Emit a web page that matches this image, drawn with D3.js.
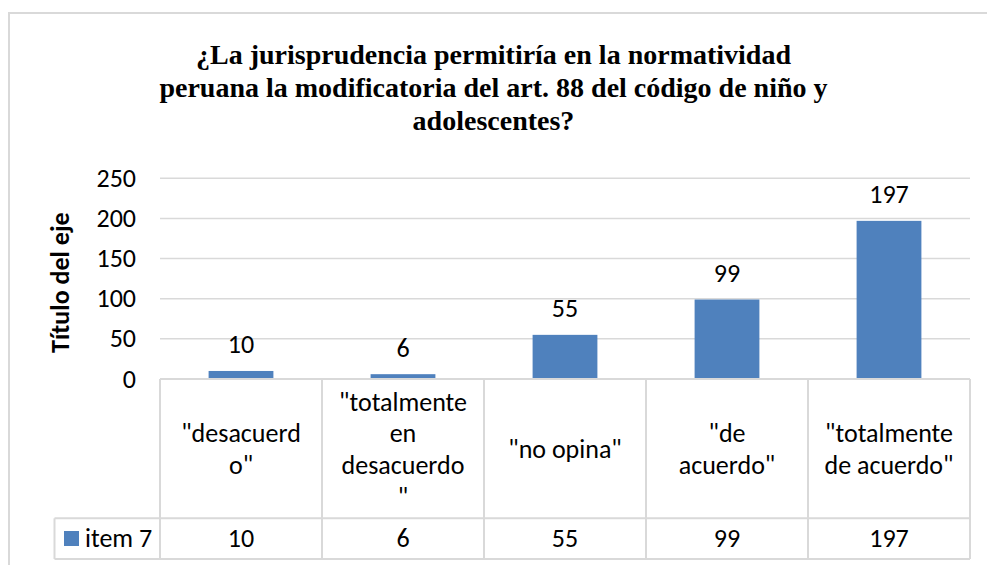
<!DOCTYPE html>
<html><head><meta charset="utf-8">
<script src="https://cdn.jsdelivr.net/npm/d3@7"></script>
<style>html,body{margin:0;padding:0;background:#fff;}svg{display:block;}</style>
</head><body>
<svg id="c" width="987" height="565"></svg>
<script>
const titleLines = ["¿La jurisprudencia permitiría en la normatividad", "peruana la modificatoria del art. 88 del código de niño y", "adolescentes?"];
const categories = ['"desacuerdo"', '"totalmente en desacuerdo"', '"no opina"', '"de acuerdo"', '"totalmente de acuerdo"'];
const categoryLines = [['"desacuerd', 'o"'], ['"totalmente', 'en', 'desacuerdo', '"'], ['"no opina"'], ['"de', 'acuerdo"'], ['"totalmente', 'de acuerdo"']];
const seriesName = "item 7";
const values = [10, 6, 55, 99, 197];
const yTicks = [0, 50, 100, 150, 200, 250];
const yTitle = "Título del eje";

const svg = d3.select("#c");
const sans = "Carlito, Lato, sans-serif";
const grid = "#d9d9d9";
const blue = "#4f81bd";
const fs = "26px";

// outer frame
svg.append("rect").attr("x", 9).attr("y", 13).attr("width", 1000).attr("height", 600)
  .attr("fill", "none").attr("stroke", grid).attr("stroke-width", 2);

// title: direct children, left-anchored, centred by measuring
const titleCenter = 493.5;
svg.selectAll("text").data(titleLines).join("text")
  .attr("y", (d, i) => 64 + i * 33)
  .style("font-family", "'Times New Roman'").style("font-weight", "bold").style("font-size", "28px")
  .text(d => d)
  .attr("x", function () { return titleCenter - this.getComputedTextLength() / 2; });

const left = 160, right = 970, top0 = 178.3, bottom0 = 379;
const x = d3.scaleBand().domain(categories).range([left, right]).paddingInner(0.6).paddingOuter(0.3);
const y = d3.scaleLinear().domain([0, 250]).range([bottom0, top0]);

// gridlines
svg.append("g").selectAll("line").data(yTicks.filter(t => t > 0)).join("line")
  .attr("x1", left).attr("x2", right).attr("y1", d => y(d)).attr("y2", d => y(d))
  .attr("stroke", grid).attr("stroke-width", 1.5);

// y axis tick labels
svg.append("g").selectAll("text").data(yTicks).join("text")
  .attr("x", 136).attr("y", d => y(d) + 8.5).attr("text-anchor", "end")
  .style("font-family", sans).style("font-size", fs).attr("fill", "#000")
  .text(d => d);

// y title
svg.append("text").attr("transform", "translate(69," + ((top0 + bottom0) / 2 + 4) + ") rotate(-90)")
  .attr("text-anchor", "middle")
  .style("font-family", sans).style("font-weight", "bold").style("font-size", fs).attr("fill", "#000")
  .text(yTitle);

// bars
svg.append("g").selectAll("rect").data(values).join("rect")
  .attr("x", (d, i) => x(categories[i])).attr("width", x.bandwidth())
  .attr("y", d => y(d)).attr("height", d => y(0) - y(d))
  .attr("fill", blue);

// bar labels
svg.append("g").selectAll("text").data(values).join("text")
  .attr("x", (d, i) => x(categories[i]) + x.bandwidth() / 2).attr("y", d => y(d) - 17.5)
  .attr("text-anchor", "middle")
  .style("font-family", sans).style("font-size", fs).attr("fill", "#000")
  .text(d => d);

// data table
const step = (right - left) / categories.length;
const tableTop = 379, rowDiv = 518.3, tableBot = 559, legLeft = 54.5;
const tg = svg.append("g").attr("stroke", grid).attr("stroke-width", 2);
tg.append("line").attr("x1", left).attr("x2", right).attr("y1", tableTop).attr("y2", tableTop);
tg.append("line").attr("x1", legLeft).attr("x2", right).attr("y1", rowDiv).attr("y2", rowDiv);
tg.append("line").attr("x1", legLeft).attr("x2", right).attr("y1", tableBot).attr("y2", tableBot);
tg.append("line").attr("x1", legLeft).attr("x2", legLeft).attr("y1", rowDiv).attr("y2", tableBot);
tg.selectAll(".v").data(d3.range(categories.length + 1)).join("line")
  .attr("x1", i => left + i * step).attr("x2", i => left + i * step)
  .attr("y1", tableTop).attr("y2", tableBot);

// category labels
const lh = 31.7;
categoryLines.forEach((lines, i) => {
  const cx = left + (i + 0.5) * step;
  const cy = (tableTop + rowDiv) / 2 + 1;
  const start = cy - (lines.length - 1) * lh / 2;
  svg.append("g").selectAll("text").data(lines).join("text")
    .attr("x", cx).attr("y", (d, j) => start + j * lh + 8.5)
    .attr("text-anchor", "middle")
    .style("font-family", sans).style("font-size", fs).attr("fill", "#000")
    .text(d => d);
});

// value row
svg.append("g").selectAll("text").data(values).join("text")
  .attr("x", (d, i) => left + (i + 0.5) * step).attr("y", (rowDiv + tableBot) / 2 + 8.5)
  .attr("text-anchor", "middle")
  .style("font-family", sans).style("font-size", fs).attr("fill", "#000")
  .text(d => d);

// legend key
svg.append("rect").attr("x", 64).attr("y", 531).attr("width", 15).attr("height", 15).attr("fill", blue);
svg.append("text").attr("x", 85).attr("y", (rowDiv + tableBot) / 2 + 8.5)
  .style("font-family", sans).style("font-size", fs).attr("fill", "#000")
  .text(seriesName);
</script>
</body></html>
